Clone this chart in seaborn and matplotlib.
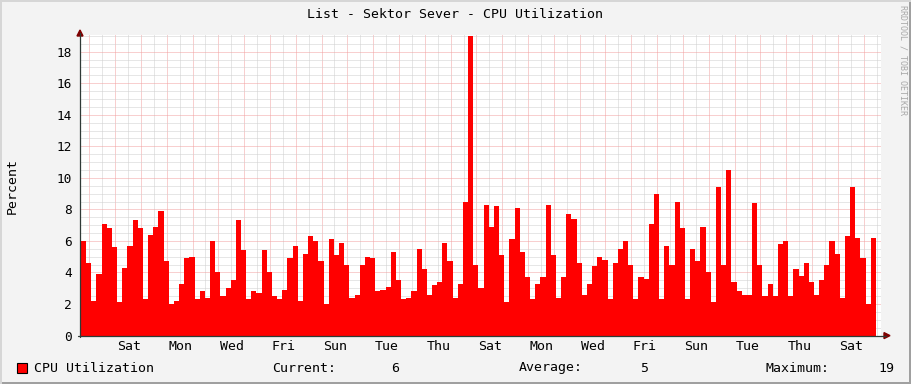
import numpy as np
import pandas as pd
import matplotlib
matplotlib.use("Agg")
import matplotlib.pyplot as plt
import seaborn as sns
from matplotlib.patches import Rectangle, Polygon
from matplotlib.lines import Line2D

# ---------------- data ----------------
cpu_util = [
    6.0, 4.6, 2.2, 3.9, 7.1, 6.8, 5.6, 2.1, 4.3, 5.7,
    7.3, 6.8, 2.3, 6.4, 6.9, 7.9, 4.7, 2.0, 2.2, 3.3,
    4.9, 5.0, 2.3, 2.8, 2.4, 6.0, 4.0, 2.5, 3.0, 3.5,
    7.3, 5.4, 2.3, 2.8, 2.7, 5.4, 4.0, 2.5, 2.3, 2.9,
    4.9, 5.7, 2.2, 5.2, 6.3, 6.0, 4.7, 2.0, 6.1, 5.1,
    5.9, 4.5, 2.4, 2.6, 4.5, 5.0, 4.9, 2.8, 2.9, 3.1,
    5.3, 3.5, 2.3, 2.4, 2.8, 5.5, 4.2, 2.6, 3.2, 3.4,
    5.9, 4.7, 2.4, 3.3, 8.5, 19.0, 4.5, 3.0, 8.3, 6.9,
    8.2, 5.1, 2.1, 6.1, 8.1, 5.3, 3.7, 2.3, 3.3, 3.7,
    8.3, 5.1, 2.4, 3.7, 7.7, 7.4, 4.6, 2.6, 3.3, 4.4,
    5.0, 4.8, 2.3, 4.6, 5.5, 6.0, 4.5, 2.3, 3.7, 3.6,
    7.1, 9.0, 2.3, 5.7, 4.5, 8.5, 6.8, 2.3, 5.5, 4.7,
    6.9, 4.0, 2.1, 9.4, 4.5, 10.5, 3.4, 2.8, 2.6, 2.6,
    8.4, 4.5, 2.5, 3.3, 2.5, 5.8, 6.0, 2.5, 4.2, 3.8,
    4.6, 3.4, 2.6, 3.5, 4.5, 6.0, 5.2, 2.4, 6.3, 9.4,
    6.2, 4.9, 2.0, 6.2,
]
day_labels = ["Sat", "Mon", "Wed", "Fri", "Sun", "Tue", "Thu", "Sat",
              "Mon", "Wed", "Fri", "Sun", "Tue", "Thu", "Sat"]
y_ticks = [0, 2, 4, 6, 8, 10, 12, 14, 16, 18]
title = "List - Sektor Sever - CPU Utilization"
y_label = "Percent"
series_name = "CPU Utilization"
current_val = "6"
average_val = "5"
maximum_val = "19"

# ---------------- style ----------------
sns.set_theme(style="white")
plt.rcParams['font.family'] = ['DejaVu Sans Mono', 'DejaVu Sans']
FS = 9.5

W, H = 911, 384
BG = "#F3F3F3"
fig = plt.figure(figsize=(W / 100, H / 100), dpi=100, facecolor=BG)

def fx(x):
    return x / W

def fy(y):
    return 1 - y / H

L, R, T, B = 80, 881, 35.4, 335.6
ax = fig.add_axes([fx(L), fy(B), (R - L) / W, (B - T) / H])
ax.set_facecolor("white")

n = len(cpu_util)
df = pd.DataFrame({"slot": np.arange(n) + 0.5, "cpu": cpu_util})
sns.histplot(data=df, x="slot", weights="cpu",
             binwidth=1, binrange=(0, n), element="step", fill=True,
             color="#FF0000", alpha=1, linewidth=0, ax=ax, zorder=2)

ax.set_xlim(-0.19, 154.98)
ax.set_ylim(0, 19.03)

# grid
day0 = 1.61
ax.set_xticks(np.arange(day0, 155, 5.0))
ax.set_xticks([v for v in np.arange(day0 - 2.5, 155, 2.5) if v > -0.19], minor=True)
ax.set_yticks(y_ticks)
ax.set_yticks(np.arange(0, 19.01, 0.5), minor=True)
ax.set_xticklabels([])
ax.set_yticklabels([str(v) for v in y_ticks], fontsize=9.2)
ax.set_axisbelow(True)
ax.grid(which="major", color="#F2A0A0", linestyle=(0, (1, 1)), linewidth=0.72)
ax.grid(which="minor", color="#CFCFCF", linestyle=(0, (1, 1)), linewidth=0.72)
ax.tick_params(axis="y", which="major", direction="inout", length=4, width=0.7,
               color="#E08080", pad=4, labelcolor="black")
ax.tick_params(axis="y", which="minor", direction="inout", length=3, width=0.7,
               color="#B8B8B8")
ax.tick_params(axis="x", which="major", direction="inout", length=4, width=0.7,
               color="#E08080")
ax.tick_params(axis="x", which="minor", direction="inout", length=3, width=0.7,
               color="#B8B8B8")
for s in ax.spines.values():
    s.set_visible(False)
ax.set_xlabel("")
ax.set_ylabel("")

# day labels (centered at noon, every second day)
for k, lab in enumerate(day_labels):
    ax.text(9.25 + 10 * k, -(346.7 - B) / (B - T), lab, transform=ax.get_xaxis_transform(),
            ha="center", va="center", fontsize=FS, color="black")

# axis lines and arrows
AX_C = "#2F3A36"
ARROW_C = "#7F0000"
fig.add_artist(Line2D([fx(80), fx(80)], [fy(B + 1), fy(33)], color=AX_C, lw=0.9))
fig.add_artist(Line2D([fx(78), fx(886)], [fy(B), fy(B)], color=AX_C, lw=0.9))
fig.add_artist(Polygon([[fx(77), fy(36)], [fx(83), fy(36)], [fx(80), fy(30)]],
                       closed=True, color=ARROW_C, transform=fig.transFigure))
fig.add_artist(Polygon([[fx(884), fy(B - 3)], [fx(884), fy(B + 3)], [fx(890), fy(B)]],
                       closed=True, color=ARROW_C, transform=fig.transFigure))

# texts
fig.text(fx(455), fy(14), title, ha="center", va="center", fontsize=FS, color="black")
fig.text(fx(12), fy(186), y_label, ha="center", va="center", rotation=90, fontsize=FS, color="black")
fig.text(fx(903), fy(5), "RRDTOOL / TOBI OETIKER", ha="center", va="top", rotation=-90,
         fontsize=6.0, color="#A8A8A8")

# legend row
LY = 368
fig.add_artist(Rectangle((fx(17), fy(373)), 10 / W, 10 / H, facecolor="#FF0000",
                         edgecolor="black", lw=0.8, transform=fig.transFigure))
fig.text(fx(34), fy(LY), series_name, ha="left", va="center", fontsize=FS, color="black")
fig.text(fx(272), fy(LY), "Current:", ha="left", va="center", fontsize=FS, color="black")
fig.text(fx(399), fy(LY), current_val, ha="right", va="center", fontsize=FS, color="black")
fig.text(fx(519), fy(LY), "Average:", ha="left", va="center", fontsize=FS, color="black")
fig.text(fx(648), fy(LY), average_val, ha="right", va="center", fontsize=FS, color="black")
fig.text(fx(765), fy(LY), "Maximum:", ha="left", va="center", fontsize=FS, color="black")
fig.text(fx(894), fy(LY), maximum_val, ha="right", va="center", fontsize=FS, color="black")

# 3D frame
fig.add_artist(Rectangle((0, fy(H)), 1, 2 / H, facecolor="#A0A0A0", lw=0, transform=fig.transFigure))
fig.add_artist(Rectangle((fx(W - 2), 0), 2 / W, 1, facecolor="#A0A0A0", lw=0, transform=fig.transFigure))
fig.add_artist(Rectangle((0, fy(2)), 1, 2 / H, facecolor="#D6D6D6", lw=0, transform=fig.transFigure))
fig.add_artist(Rectangle((0, 0), 2 / W, 1, facecolor="#D6D6D6", lw=0, transform=fig.transFigure))

fig.savefig("out.png", dpi=100, facecolor=BG)
